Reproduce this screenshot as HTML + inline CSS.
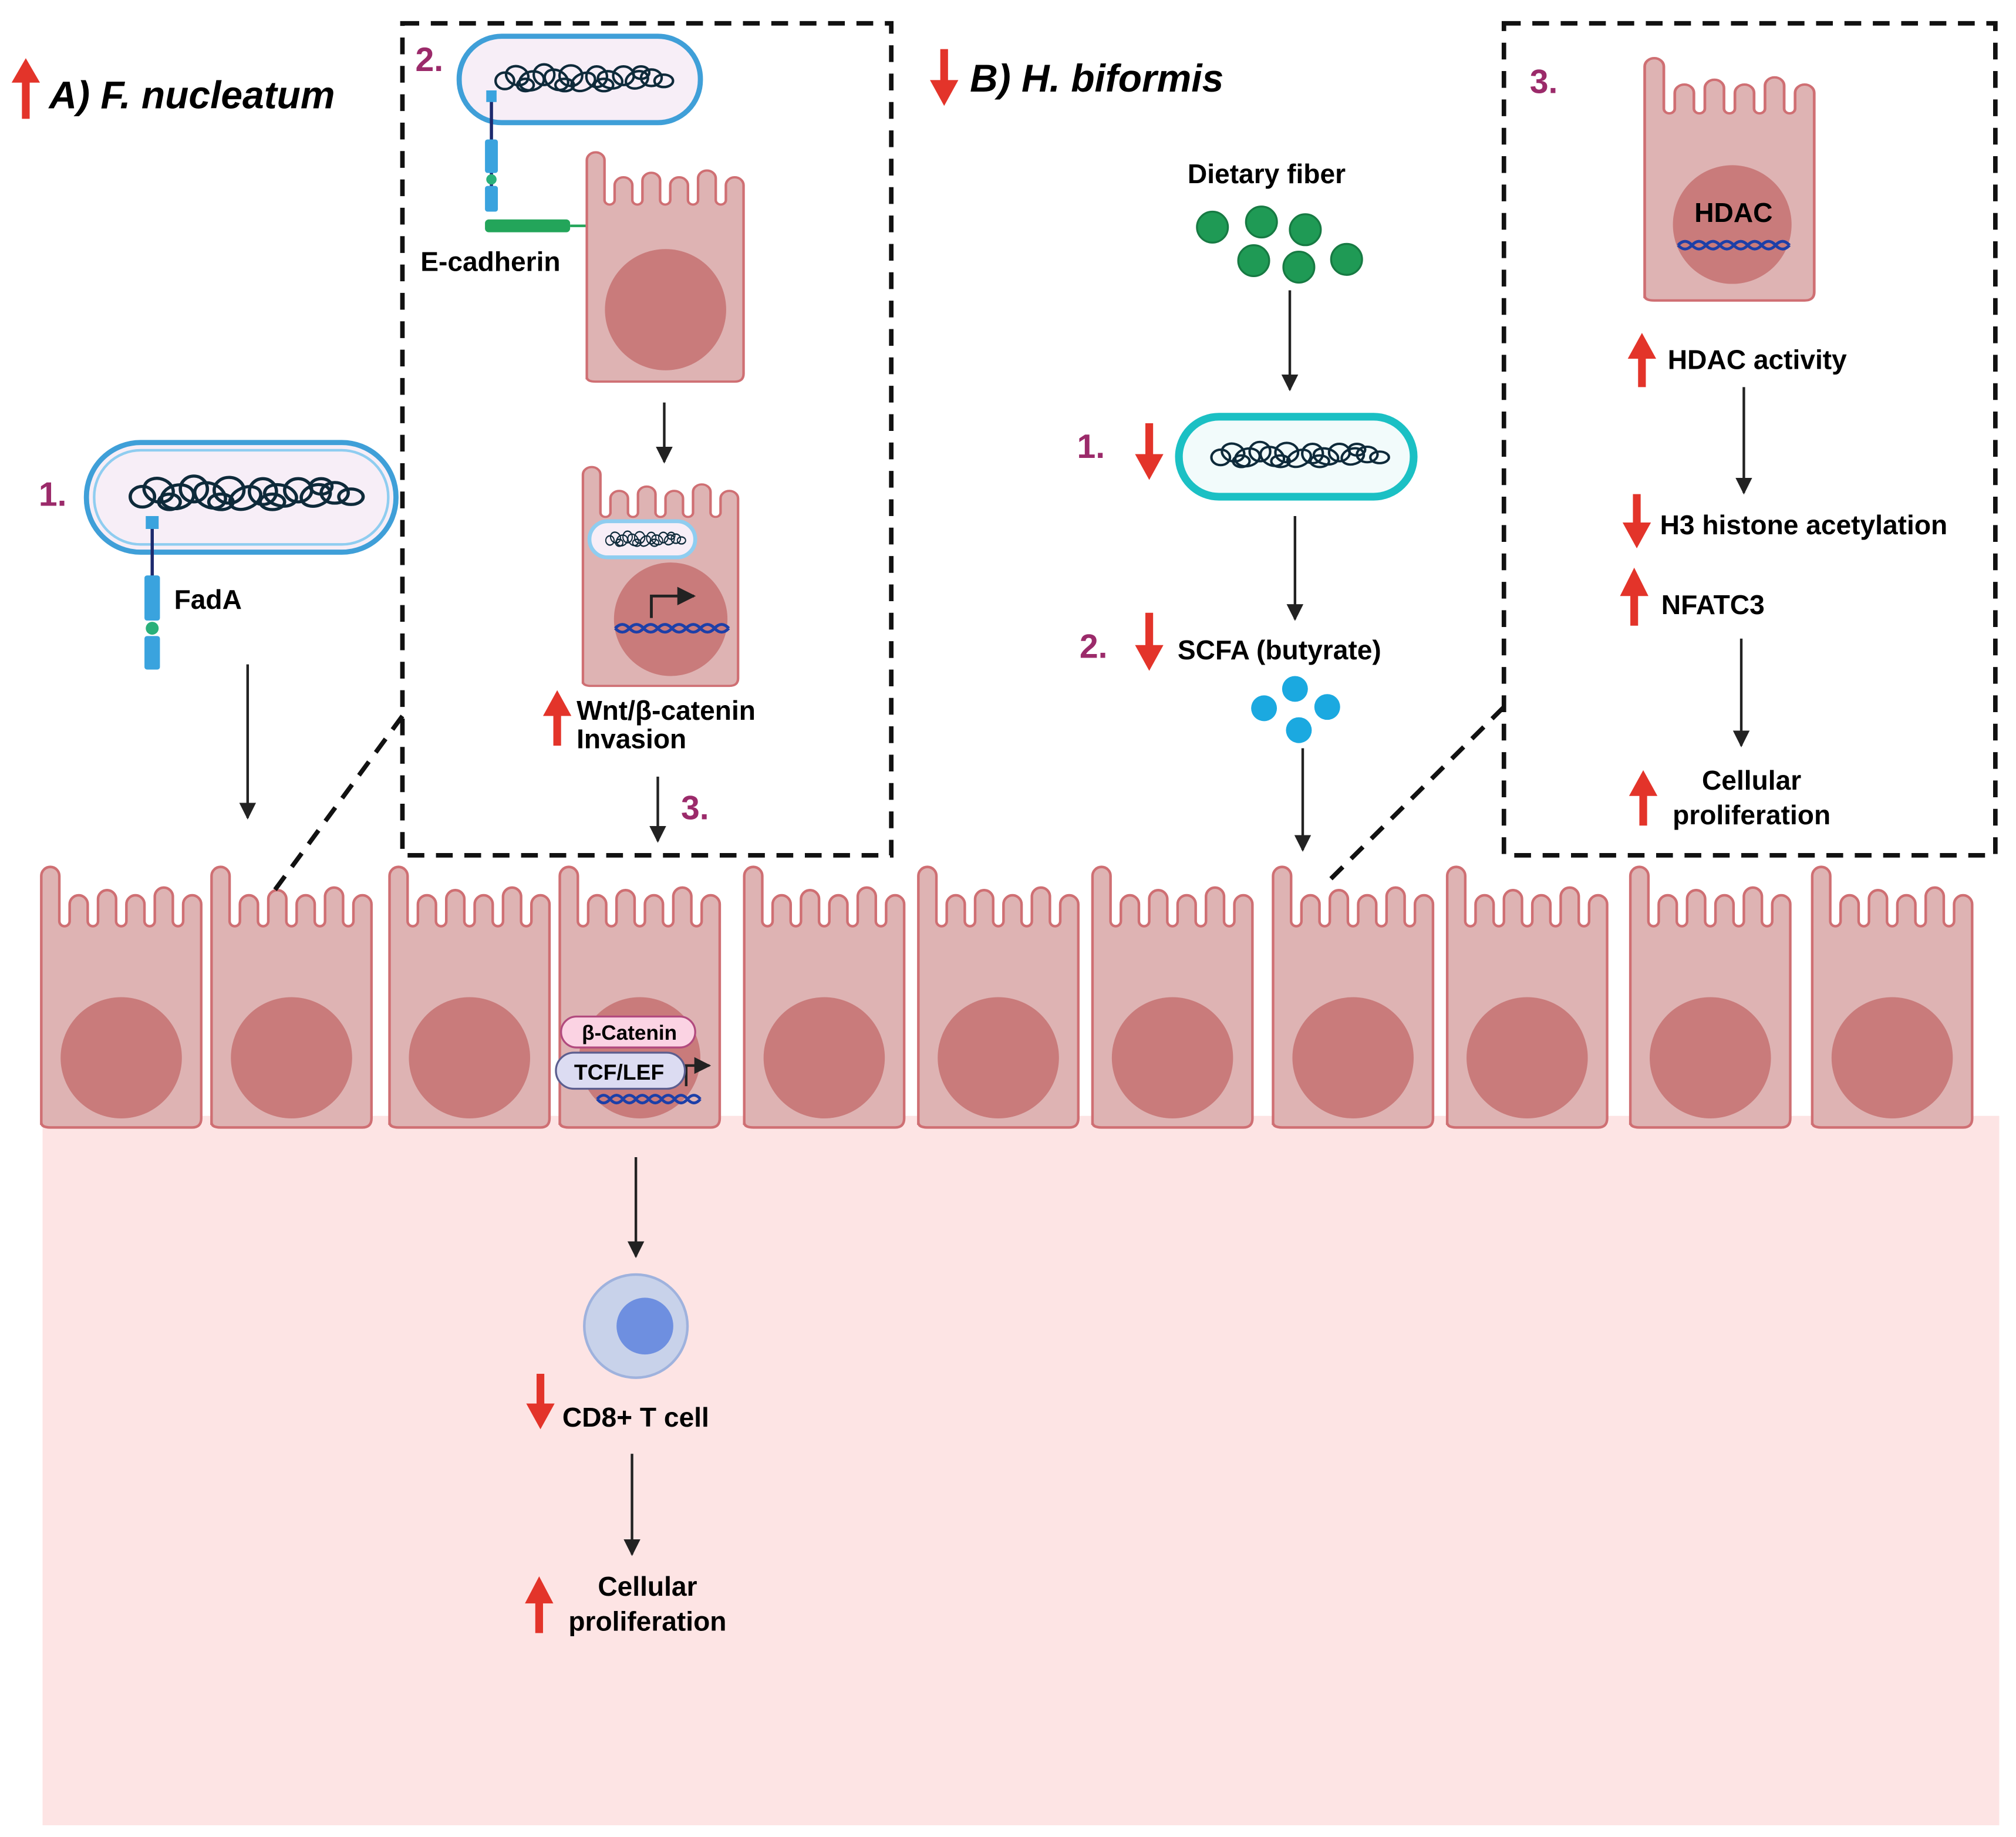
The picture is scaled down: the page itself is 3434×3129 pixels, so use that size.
<!DOCTYPE html>
<html><head><meta charset="utf-8"><style>
html,body{margin:0;padding:0;background:#fff;}
svg{display:block;}
text{font-family:"Liberation Sans",sans-serif;font-weight:bold;}
</style></head><body>
<svg width="3434" height="3129" viewBox="0 0 1563 1424" xmlns="http://www.w3.org/2000/svg">
<defs>
<path id="cellp" d="M2,200 L2,7 A7,7 0 0 1 16,7 L16,42 A4,4 0 0 0 24,42 L24,29 A7,7 0 0 1 38,29 L38,42 A4,4 0 0 0 46,42 L46,25 A7,7 0 0 1 60,25 L60,42 A4,4 0 0 0 68,42 L68,29 A7,7 0 0 1 82,29 L82,42 A4,4 0 0 0 90,42 L90,23 A7,7 0 0 1 104,23 L104,42 A4,4 0 0 0 112,42 L112,29 A7,7 0 0 1 126,29 L126,195 Q126,202 119,202 L9,202 Q2,202 2,198 Z" fill="#deb3b3" stroke="#cf6f73" stroke-width="2"/>
<g id="cell"><use href="#cellp"/><circle cx="64" cy="148" r="47" fill="#c97b7b"/></g>
<marker id="ah" viewBox="0 0 10 10" refX="9" refY="5" markerWidth="6.5" markerHeight="6.5" orient="auto"><path d="M0,0 L10,5 L0,10 Z" fill="#222"/></marker>
<path id="dna" d="M0,0 q5,-6 10,0 t10,0 t10,0 t10,0 t10,0 t10,0 t10,0 t10,0 M0,0 q5,6 10,0 t10,0 t10,0 t10,0 t10,0 t10,0 t10,0 t10,0" fill="none" stroke="#1d3fa8" stroke-width="2.2"/>
<g id="tangle" fill="none" stroke="#0e2a3a" stroke-width="2.4">
<ellipse cx="8" cy="2" rx="9" ry="8"/><ellipse cx="20" cy="-3" rx="11" ry="9" transform="rotate(20 20 -3)"/>
<ellipse cx="34" cy="2" rx="12" ry="9" transform="rotate(-15 34 2)"/><ellipse cx="46" cy="-4" rx="10" ry="10"/>
<ellipse cx="58" cy="1" rx="12" ry="9" transform="rotate(30 58 1)"/><ellipse cx="72" cy="-3" rx="11" ry="10"/>
<ellipse cx="84" cy="3" rx="12" ry="8" transform="rotate(-25 84 3)"/><ellipse cx="97" cy="-2" rx="10" ry="10"/>
<ellipse cx="110" cy="1" rx="12" ry="8" transform="rotate(15 110 1)"/><ellipse cx="123" cy="-3" rx="10" ry="9"/>
<ellipse cx="136" cy="1" rx="11" ry="8" transform="rotate(-20 136 1)"/><ellipse cx="150" cy="-1" rx="10" ry="8"/>
<ellipse cx="162" cy="2" rx="9" ry="6"/><ellipse cx="28" cy="6" rx="8" ry="6"/><ellipse cx="66" cy="6" rx="9" ry="6"/>
<ellipse cx="104" cy="6" rx="9" ry="6"/><ellipse cx="140" cy="-6" rx="8" ry="6"/>
</g>
</defs>
<rect x="33" y="865" width="1517" height="550" fill="#fde4e4"/>

<use href="#cell" transform="translate(30,672)"/>
<use href="#cell" transform="translate(162,672)"/>
<use href="#cell" transform="translate(300,672)"/>
<use href="#cell" transform="translate(432,672)"/>
<use href="#cell" transform="translate(575,672)"/>
<use href="#cell" transform="translate(710,672)"/>
<use href="#cell" transform="translate(845,672)"/>
<use href="#cell" transform="translate(985,672)"/>
<use href="#cell" transform="translate(1120,672)"/>
<use href="#cell" transform="translate(1262,672)"/>
<use href="#cell" transform="translate(1403,672)"/>

<rect x="435" y="788" width="104" height="24" rx="12" fill="#fbd3e3" stroke="#b24a7e" stroke-width="1.5"/>
<text x="488" y="806" font-size="16" text-anchor="middle">β-Catenin</text>
<use href="#dna" transform="translate(463,852)"/>
<path d="M532,842 V826 H550" fill="none" stroke="#222" stroke-width="2" marker-end="url(#ah)"/>
<rect x="431" y="816" width="100" height="28" rx="14" fill="#dcdcf2" stroke="#5c5e8f" stroke-width="1.5"/>
<text x="480" y="837" font-size="17" text-anchor="middle">TCF/LEF</text>

<g fill="none" stroke="#111" stroke-width="3.5" stroke-dasharray="13,9">
<rect x="312" y="18" width="379" height="645"/>
<rect x="1166" y="18" width="381" height="645"/>
<path d="M312,555 L213,690"/>
<path d="M1166,548 L1028,685"/>
</g>

<path d="M20,92 V60" stroke="#e3342a" stroke-width="6"/><path d="M9,64 L20,45 L31,64 Z" fill="#e3342a"/>
<text x="38" y="84" font-size="30" font-style="italic">A) F. nucleatum</text>
<text x="30" y="392" font-size="26" fill="#9b2a6a">1.</text>
<rect x="67" y="343" width="240" height="85" rx="42" fill="#f7eef7" stroke="#3f9fd8" stroke-width="4"/>
<rect x="73" y="349" width="228" height="73" rx="36" fill="none" stroke="#8fcdf0" stroke-width="2"/>
<use href="#tangle" transform="translate(102,383) scale(1.05,1)"/>
<line x1="118" y1="408" x2="118" y2="448" stroke="#1d2a6e" stroke-width="2.5"/>
<rect x="113" y="400" width="10" height="10" fill="#3aa3de"/>
<rect x="112" y="446" width="12" height="35" rx="2" fill="#3aa3de"/>
<circle cx="118" cy="487" r="5" fill="#2ab07a"/>
<rect x="112" y="493" width="12" height="26" rx="2" fill="#3aa3de"/>
<text x="135" y="472" font-size="21">FadA</text>
<line x1="192" y1="515" x2="192" y2="634" stroke="#222" stroke-width="2" marker-end="url(#ah)"/>

<text x="322" y="55" font-size="26" fill="#9b2a6a">2.</text>
<rect x="356" y="28" width="187" height="67" rx="33" fill="#f7eef7" stroke="#3f9fd8" stroke-width="4"/>
<use href="#tangle" transform="translate(385,61) scale(0.8,0.8)"/>
<line x1="381" y1="78" x2="381" y2="162" stroke="#1d2a6e" stroke-width="2.5"/>
<rect x="377" y="70" width="8" height="9" fill="#3aa3de"/>
<rect x="376" y="108" width="10" height="26" rx="2" fill="#3aa3de"/>
<circle cx="381" cy="139" r="4" fill="#2ab07a"/>
<rect x="376" y="144" width="10" height="20" rx="2" fill="#3aa3de"/>
<rect x="376" y="170" width="66" height="10" rx="3" fill="#23a55a"/>
<line x1="442" y1="175" x2="456" y2="175" stroke="#23a55a" stroke-width="2"/>
<g transform="translate(453,118) scale(0.98,0.88)"><use href="#cellp"/></g>
<circle cx="516" cy="240" r="47" fill="#c97b7b"/>
<text x="326" y="210" font-size="21">E-cadherin</text>
<line x1="515" y1="312" x2="515" y2="358" stroke="#222" stroke-width="2" marker-end="url(#ah)"/>
<g transform="translate(450,362) scale(0.97,0.84)"><use href="#cellp"/></g>
<rect x="457" y="404" width="82" height="28" rx="14" fill="#f7eef7" stroke="#8fcdf0" stroke-width="3"/>
<use href="#tangle" transform="translate(470,418) scale(0.36,0.45)"/>
<circle cx="520" cy="480" r="44" fill="#c97b7b"/>
<use href="#dna" transform="translate(477,487) scale(1.1,1)"/>
<path d="M505,479 V462 H538" fill="none" stroke="#222" stroke-width="2.2" marker-end="url(#ah)"/>
<path d="M432,578 V550" stroke="#e3342a" stroke-width="6"/><path d="M421,555 L432,535 L443,555 Z" fill="#e3342a"/>
<text x="447" y="558" font-size="21">Wnt/β-catenin</text>
<text x="447" y="580" font-size="21">Invasion</text>
<line x1="510" y1="602" x2="510" y2="652" stroke="#222" stroke-width="2" marker-end="url(#ah)"/>
<text x="528" y="635" font-size="26" fill="#9b2a6a">3.</text>

<path d="M732,38 V65" stroke="#e3342a" stroke-width="6"/><path d="M721,62 L732,82 L743,62 Z" fill="#e3342a"/>
<text x="752" y="71" font-size="30" font-style="italic">B) H. biformis</text>
<text x="982" y="142" font-size="21" text-anchor="middle">Dietary fiber</text>
<g fill="#1f9a55" stroke="#177a43" stroke-width="1.5">
<circle cx="940" cy="176" r="12"/><circle cx="978" cy="172" r="12"/><circle cx="1012" cy="178" r="12"/>
<circle cx="972" cy="202" r="12"/><circle cx="1007" cy="207" r="12"/><circle cx="1044" cy="201" r="12"/>
</g>
<line x1="1000" y1="225" x2="1000" y2="302" stroke="#222" stroke-width="2" marker-end="url(#ah)"/>
<text x="835" y="355" font-size="26" fill="#9b2a6a">1.</text>
<path d="M891,328 V355" stroke="#e3342a" stroke-width="6"/><path d="M880,352 L891,372 L902,352 Z" fill="#e3342a"/>
<rect x="914" y="323" width="182" height="62" rx="31" fill="#f2fbfb" stroke="#1bc0c4" stroke-width="6"/>
<g style="stroke:#127f8a"><use href="#tangle" transform="translate(940,353) scale(0.8,0.75)" style="stroke:#127f8a"/></g>
<line x1="1004" y1="400" x2="1004" y2="480" stroke="#222" stroke-width="2" marker-end="url(#ah)"/>
<text x="837" y="510" font-size="26" fill="#9b2a6a">2.</text>
<path d="M891,475 V503" stroke="#e3342a" stroke-width="6"/><path d="M880,500 L891,520 L902,500 Z" fill="#e3342a"/>
<text x="913" y="511" font-size="21">SCFA (butyrate)</text>
<g fill="#1ba9e0"><circle cx="980" cy="549" r="10"/><circle cx="1004" cy="534" r="10"/><circle cx="1029" cy="548" r="10"/><circle cx="1007" cy="566" r="10"/></g>
<line x1="1010" y1="580" x2="1010" y2="659" stroke="#222" stroke-width="2" marker-end="url(#ah)"/>

<text x="1186" y="72" font-size="26" fill="#9b2a6a">3.</text>
<g transform="translate(1273,45) scale(1.06,0.93)"><use href="#cellp"/></g>
<ellipse cx="1343" cy="174" rx="46" ry="46" fill="#c97b7b"/>
<text x="1344" y="172" font-size="21" text-anchor="middle">HDAC</text>
<use href="#dna" transform="translate(1301,190) scale(1.08,1)"/>
<path d="M1273,300 V275" stroke="#e3342a" stroke-width="6"/><path d="M1262,278 L1273,258 L1284,278 Z" fill="#e3342a"/>
<text x="1293" y="286" font-size="21">HDAC activity</text>
<line x1="1352" y1="300" x2="1352" y2="382" stroke="#222" stroke-width="2" marker-end="url(#ah)"/>
<path d="M1269,383 V408" stroke="#e3342a" stroke-width="6"/><path d="M1258,405 L1269,425 L1280,405 Z" fill="#e3342a"/>
<text x="1287" y="414" font-size="21">H3 histone acetylation</text>
<path d="M1267,485 V460" stroke="#e3342a" stroke-width="6"/><path d="M1256,462 L1267,440 L1278,462 Z" fill="#e3342a"/>
<text x="1288" y="476" font-size="21">NFATC3</text>
<line x1="1350" y1="495" x2="1350" y2="578" stroke="#222" stroke-width="2" marker-end="url(#ah)"/>
<path d="M1274,640 V615" stroke="#e3342a" stroke-width="6"/><path d="M1263,617 L1274,597 L1285,617 Z" fill="#e3342a"/>
<text x="1358" y="612" font-size="21" text-anchor="middle">Cellular</text>
<text x="1358" y="639" font-size="21" text-anchor="middle">proliferation</text>

<line x1="493" y1="897" x2="493" y2="974" stroke="#222" stroke-width="2" marker-end="url(#ah)"/>
<circle cx="493" cy="1028" r="40" fill="#c8d2ea" stroke="#9fb2dd" stroke-width="2"/>
<circle cx="500" cy="1028" r="22" fill="#6e8fe0"/>
<path d="M419,1065 V1090" stroke="#e3342a" stroke-width="6"/><path d="M408,1088 L419,1108 L430,1088 Z" fill="#e3342a"/>
<text x="436" y="1106" font-size="21">CD8+ T cell</text>
<line x1="490" y1="1127" x2="490" y2="1205" stroke="#222" stroke-width="2" marker-end="url(#ah)"/>
<path d="M418,1266 V1240" stroke="#e3342a" stroke-width="6"/><path d="M407,1243 L418,1222 L429,1243 Z" fill="#e3342a"/>
<text x="502" y="1237" font-size="21" text-anchor="middle">Cellular</text>
<text x="502" y="1264" font-size="21" text-anchor="middle">proliferation</text>
</svg>
</body></html>
